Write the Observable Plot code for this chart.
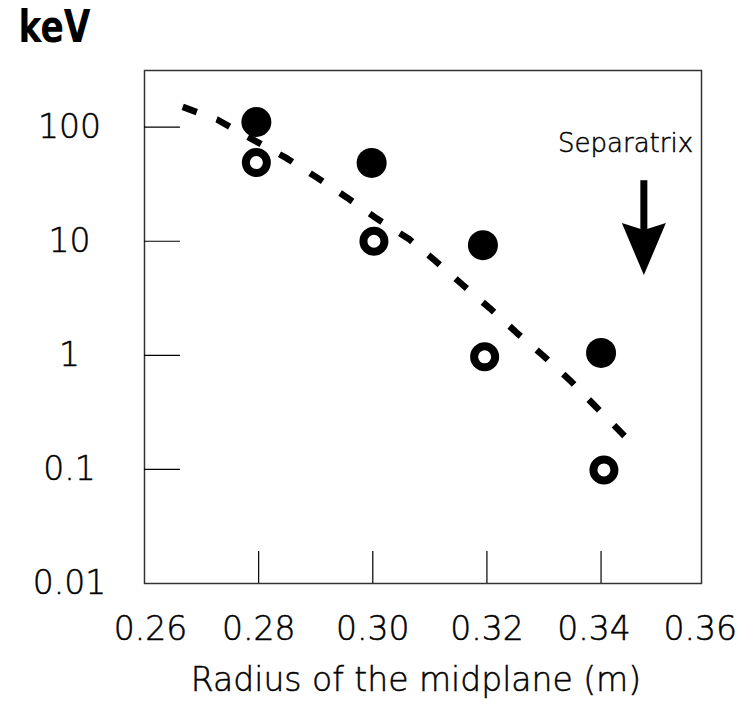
<!DOCTYPE html>
<html>
<head>
<meta charset="utf-8">
<script src="https://cdn.jsdelivr.net/npm/d3@7"></script>
<script src="https://cdn.jsdelivr.net/npm/@observablehq/plot@0.6"></script>
<style>
  html, body { margin: 0; padding: 0; background: #fff; }
  #chart svg text { stroke: black; stroke-width: 0.5px; }
</style>
</head>
<body>
<div id="chart"></div>
<script>
// ---- data ----
const xTicks = [0.28, 0.30, 0.32, 0.34];
const xEdgeLabels = ["0.26", "0.34", "0.36"];
const yTicks = [100, 10, 1, 0.1, 0.01];
const yTickLabels = ["100", "10", "1", "0.1", "0.01"];

// filled circles
const filledRadius = [0.2796, 0.2998, 0.3193, 0.3400];
const filledKeV = [111, 48.6, 9.25, 1.05];
// open circles
const openRadius = [0.2796, 0.3002, 0.3196, 0.3405];
const openKeV = [49, 10.0, 0.97, 0.099];
// dashed curve
const fitRadius = [0.2667, 0.2727, 0.2793, 0.2849, 0.2901, 0.2955, 0.3007, 0.3064,
                   0.3110, 0.3157, 0.3205, 0.3252, 0.3298, 0.3345, 0.3388, 0.3443];
const fitKeV = [150.6, 116.8, 76.3, 53.5, 36.5, 24.1, 15.8, 10.4,
                6.70, 4.17, 2.59, 1.58, 1.00, 0.607, 0.366, 0.192];
// separatrix annotation
const sepLabel = "Separatrix";
const sepLabelPos = {x: 0.3443, y: 71};
const sepArrow = {x: 0.3475, yStart: 34.3, yNotch: 12, yTip: 5.05};

const yLabel = "keV";
const xLabel = "Radius of the midplane (m)";

// ---- tables ----
const filled = filledRadius.map((x, i) => ({x, y: filledKeV[i]}));
const open = openRadius.map((x, i) => ({x, y: openKeV[i]}));
const fit = fitRadius.map((x, i) => ({x, y: fitKeV[i]}));

const arrowHead = {
  draw(ctx) {
    ctx.moveTo(0, 0);
    ctx.lineTo(-22, -52);
    ctx.lineTo(0, -45);
    ctx.lineTo(22, -52);
    ctx.closePath();
  }
};

const FONT = "'DejaVu Sans', 'Open Sans', sans-serif";
const fmt2 = d3.format(".2f");

const chart = Plot.plot({
  width: 748,
  height: 701,
  marginLeft: 144,
  marginRight: 47,
  marginTop: 70,
  marginBottom: 118,
  style: {fontFamily: FONT, fontSize: "33px", fontWeight: 200, color: "black", background: "white"},
  x: {domain: [0.26, 0.3576]},
  y: {type: "log", domain: [0.01, 314]},
  marks: [
    Plot.frame({stroke: "#333", strokeWidth: 1.5}),
    Plot.ruleX(xTicks, {x: d => d, stroke: "black", strokeWidth: 1.2, insetTop: 481}),
    Plot.ruleY(yTicks.slice(0, 4), {y: d => d, stroke: "black", strokeWidth: 1.2, insetRight: 521}),
    Plot.axisX({ticks: [0.28, 0.30, 0.32], tickSize: 0, tickPadding: 33, tickFormat: fmt2,
                label: null, fontSize: 33, fill: "black"}),
    Plot.text([xEdgeLabels[0]], {x: d => +d, frameAnchor: "bottom", lineAnchor: "top", dy: 33, dx: 6, text: d => d, fontSize: 33, fill: "black"}),
    Plot.text([xEdgeLabels[1]], {x: d => +d, frameAnchor: "bottom", lineAnchor: "top", dy: 33, dx: -7, text: d => d, fontSize: 33, fill: "black"}),
    Plot.text([xEdgeLabels[2]], {x: d => +d, frameAnchor: "bottom", lineAnchor: "top", dy: 33, dx: -15, text: d => d, fontSize: 33, fill: "black"}),
    Plot.axisY({ticks: yTicks, tickSize: 0, tickPadding: 75, textAnchor: "middle",
                tickFormat: d => yTickLabels[yTicks.indexOf(d)], label: null, fontSize: 33, fill: "black"}),
    Plot.text([xLabel], {frameAnchor: "bottom", lineAnchor: "top", dy: 84, dx: -7, text: d => d, fontSize: 33, fill: "black"}),
    Plot.text([yLabel], {frameAnchor: "top-left", textAnchor: "start", lineAnchor: "top", dx: -126, dy: -60,
                         text: d => d, fontSize: 45, fontWeight: "bold",
                         fontFamily: "'DejaVu Sans Condensed', 'Liberation Sans Narrow', sans-serif", fill: "black"}),
    Plot.line(fit, {x: "x", y: "y", stroke: "black", strokeWidth: 6.5, strokeDasharray: "15,21",
                    strokeLinecap: "butt", strokeLinejoin: "miter"}),
    Plot.dot(filled, {x: "x", y: "y", r: 15, fill: "black", stroke: "none"}),
    Plot.dot(open, {x: "x", y: "y", r: 10.5, fill: "white", stroke: "black", strokeWidth: 8}),
    Plot.text([sepLabelPos], {x: "x", y: "y", text: () => sepLabel, fontSize: 26, fill: "black"}),
    Plot.link([sepArrow], {x1: "x", x2: "x", y1: "yStart", y2: "yNotch", stroke: "black", strokeWidth: 7, strokeLinecap: "butt"}),
    Plot.dot([sepArrow], {x: "x", y: "yTip", symbol: arrowHead, fill: "black", stroke: "none"})
  ]
});

d3.select(chart).selectAll("text").filter(function() { return this.textContent === yLabel; })
  .attr("textLength", 72).attr("lengthAdjust", "spacingAndGlyphs").style("stroke", "none");

document.getElementById("chart").appendChild(chart);
</script>
</body>
</html>
